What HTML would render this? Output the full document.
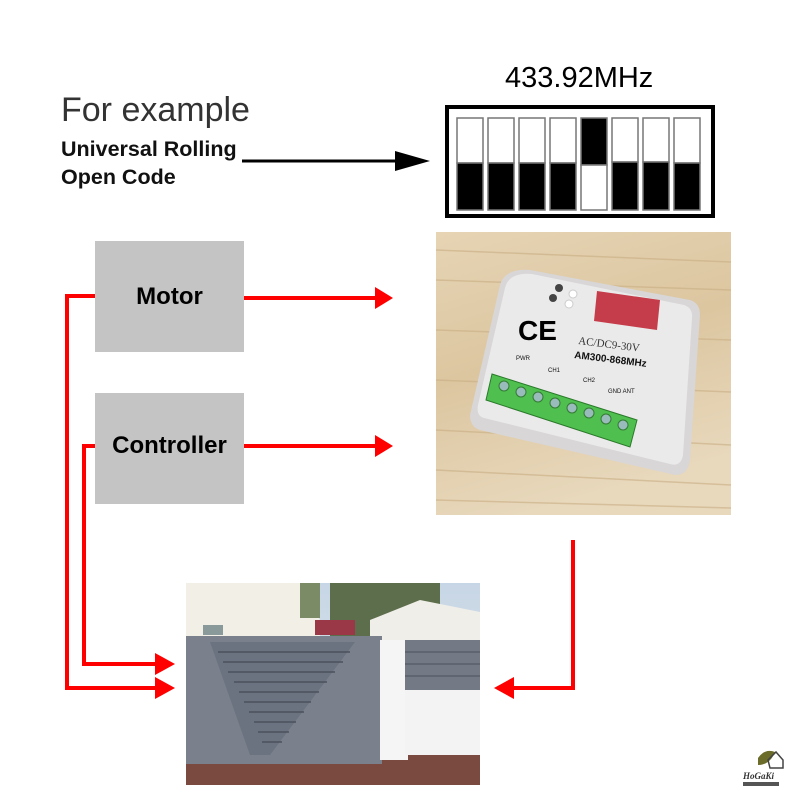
<!DOCTYPE html>
<html><head><meta charset="utf-8"><style>
body{margin:0;width:800px;height:800px;background:#fff;position:relative;overflow:hidden;font-family:"Liberation Sans",sans-serif}
.t{position:absolute;white-space:nowrap}
</style></head><body>
<div class="t" style="left:61px;top:91px;font-size:34px;color:#333">For example</div>
<div class="t" style="left:61px;top:137px;font-size:21.5px;color:#111;font-weight:bold">Universal Rolling</div>
<div class="t" style="left:61px;top:165px;font-size:21.5px;color:#111;font-weight:bold">Open Code</div>
<div class="t" style="left:505px;top:62px;font-size:29px;color:#000">433.92MHz</div>
<svg width="800" height="800" style="position:absolute;left:0;top:0">
<defs>
<linearGradient id="wood" x1="0" y1="0" x2="0.3" y2="1">
<stop offset="0" stop-color="#e6d4b4"/><stop offset="0.5" stop-color="#dcc6a0"/><stop offset="1" stop-color="#e8d8bc"/></linearGradient>
<linearGradient id="sky" x1="0" y1="0" x2="0" y2="1"><stop offset="0" stop-color="#c7d6e6"/><stop offset="1" stop-color="#e4e8ea"/></linearGradient>
</defs>
<line x1="242" y1="161" x2="400" y2="161" stroke="#000" stroke-width="3"/>
<polygon points="395,151 430,161 395,171" fill="#000"/>
<rect x="447" y="107" width="266" height="109" fill="#fff" stroke="#000" stroke-width="4"/>
<g stroke="#777" stroke-width="1.5">
<rect x="457" y="118" width="26" height="45" fill="#fff"/><rect x="457" y="163" width="26" height="47" fill="#000"/>
<rect x="488" y="118" width="26" height="45" fill="#fff"/><rect x="488" y="163" width="26" height="47" fill="#000"/>
<rect x="519" y="118" width="26" height="45" fill="#fff"/><rect x="519" y="163" width="26" height="47" fill="#000"/>
<rect x="550" y="118" width="26" height="45" fill="#fff"/><rect x="550" y="163" width="26" height="47" fill="#000"/>
<rect x="581" y="118" width="26" height="47" fill="#000"/><rect x="581" y="165" width="26" height="45" fill="#fff"/>
<rect x="612" y="118" width="26" height="44" fill="#fff"/><rect x="612" y="162" width="26" height="48" fill="#000"/>
<rect x="643" y="118" width="26" height="44" fill="#fff"/><rect x="643" y="162" width="26" height="48" fill="#000"/>
<rect x="674" y="118" width="26" height="45" fill="#fff"/><rect x="674" y="163" width="26" height="47" fill="#000"/>
</g>
<rect x="95" y="241" width="149" height="111" fill="#c4c4c4"/>
<rect x="95" y="393" width="149" height="111" fill="#c4c4c4"/>
<rect x="436" y="232" width="295" height="283" fill="url(#wood)"/>
<g stroke="#c9ae84" stroke-width="1.5" opacity="0.6">
<line x1="436" y1="250" x2="731" y2="262"/><line x1="436" y1="280" x2="731" y2="290"/><line x1="436" y1="330" x2="731" y2="340"/>
<line x1="436" y1="380" x2="731" y2="392"/><line x1="436" y1="430" x2="731" y2="445"/><line x1="436" y1="470" x2="731" y2="485"/><line x1="436" y1="500" x2="731" y2="508"/>
</g>
<path d="M530,270 L690,300 Q700,303 700,315 L690,460 Q688,475 675,475 L480,430 Q470,427 470,415 L500,285 Q505,268 530,270Z" fill="#d8d6d6"/>
<path d="M532,274 L684,305 Q693,308 692,318 L683,455 Q681,467 670,464 L484,418 Q476,416 478,405 L505,288 Q509,272 532,274Z" fill="#ebeaea"/>
<polygon points="597,291 660,300 657,330 594,321" fill="#c53d4a"/>
<circle cx="559" cy="288" r="4" fill="#444"/><circle cx="553" cy="298" r="4" fill="#444"/>
<circle cx="573" cy="294" r="4" fill="#fff" stroke="#ccc"/><circle cx="569" cy="304" r="4" fill="#fff" stroke="#ccc"/>
<text x="518" y="340" font-size="28" font-weight="bold" font-family="Liberation Sans">CE</text>
<text x="578" y="344" font-size="11" font-family="Liberation Serif" fill="#333" transform="rotate(7 578 344)">AC/DC9-30V</text>
<text x="574" y="358" font-size="10" font-weight="bold" fill="#111" transform="rotate(7 574 358)">AM300-868MHz</text>
<text x="516" y="360" font-size="6" fill="#111">PWR</text>
<text x="548" y="372" font-size="6" fill="#111">CH1</text>
<text x="583" y="382" font-size="6" fill="#111">CH2</text>
<text x="608" y="393" font-size="6" fill="#111">GND ANT</text>
<polygon points="492,374 637,420 630,447 486,400" fill="#4fbf4f" stroke="#2a7a2a"/>
<g fill="#9bb" stroke="#357a35">
<circle cx="504" cy="386" r="5"/><circle cx="521" cy="392" r="5"/><circle cx="538" cy="397" r="5"/><circle cx="555" cy="403" r="5"/>
<circle cx="572" cy="408" r="5"/><circle cx="589" cy="413" r="5"/><circle cx="606" cy="419" r="5"/><circle cx="623" cy="425" r="5"/></g>
<rect x="186" y="583" width="294" height="202" fill="url(#sky)"/>
<polygon points="186,583 300,583 320,620 320,640 186,640" fill="#f2efe6"/>
<rect x="300" y="583" width="20" height="35" fill="#7b8b66"/>
<rect x="330" y="583" width="110" height="55" fill="#5d6e4d"/>
<polygon points="370,620 420,600 480,612 480,640 370,640" fill="#f0eee8"/>
<rect x="315" y="620" width="40" height="15" fill="#9b3848"/>
<rect x="203" y="625" width="20" height="10" fill="#8a9a9a"/>
<rect x="186" y="755" width="294" height="30" fill="#7a4a40"/>
<rect x="186" y="636" width="196" height="128" fill="#7a818d"/>
<polygon points="210,642 355,642 270,755 250,755" fill="#6c7380"/>
<g stroke="#4c525c" stroke-width="1.5">
<line x1="218" y1="652" x2="350" y2="652"/><line x1="223" y1="662" x2="343" y2="662"/><line x1="228" y1="672" x2="335" y2="672"/>
<line x1="234" y1="682" x2="327" y2="682"/><line x1="239" y1="692" x2="319" y2="692"/><line x1="244" y1="702" x2="311" y2="702"/>
<line x1="249" y1="712" x2="304" y2="712"/><line x1="254" y1="722" x2="296" y2="722"/><line x1="258" y1="732" x2="289" y2="732"/><line x1="262" y1="742" x2="282" y2="742"/>
</g>
<rect x="380" y="640" width="28" height="120" fill="#f5f5f5"/>
<rect x="405" y="640" width="75" height="115" fill="#f3f3f3"/>
<rect x="405" y="640" width="75" height="50" fill="#737a86"/>
<g stroke="#4c525c"><line x1="405" y1="652" x2="480" y2="652"/><line x1="405" y1="664" x2="480" y2="664"/><line x1="405" y1="676" x2="480" y2="676"/></g>
<g stroke="#f00" stroke-width="4" fill="none">
<polyline points="95,296 67,296 67,688 160,688"/>
<polyline points="95,446 84,446 84,664 160,664"/>
<line x1="244" y1="298" x2="378" y2="298"/>
<line x1="244" y1="446" x2="378" y2="446"/>
<polyline points="573,540 573,688 512,688"/>
</g>
<g fill="#f00">
<polygon points="155,677 175,688 155,699"/><polygon points="155,653 175,664 155,675"/>
<polygon points="375,287 393,298 375,309"/><polygon points="375,435 393,446 375,457"/>
<polygon points="514,677 494,688 514,699"/>
</g>
<path d="M758,758 Q765,748 775,752 Q770,765 758,765Z" fill="#6b6b2a"/>
<path d="M768,760 L776,752 L783,760 L783,768 L770,768Z" fill="none" stroke="#444" stroke-width="1.5"/>
<text x="743" y="779" font-size="9" font-style="italic" font-weight="bold" font-family="Liberation Serif" fill="#333">HoGaKi</text>
<rect x="743" y="782" width="36" height="4" fill="#555"/>
</svg>
<div class="t" style="left:95px;top:283px;width:149px;text-align:center;font-size:24px;font-weight:bold;color:#000">Motor</div>
<div class="t" style="left:95px;top:432px;width:149px;text-align:center;font-size:24px;font-weight:bold;color:#000">Controller</div>
</body></html>
